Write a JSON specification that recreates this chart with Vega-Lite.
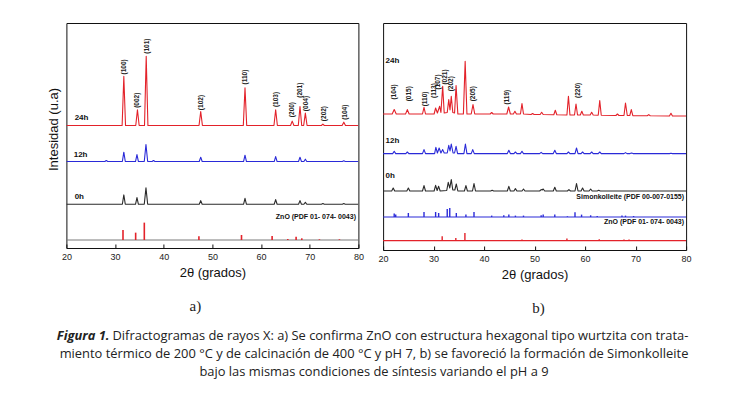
{
  "$schema": "https://vega.github.io/schema/vega-lite/v6.json",
  "padding": {"left": 29, "top": 22, "right": 0, "bottom": 0},
  "background": "white",
  "config": {
    "view": {"stroke": "#111", "strokeWidth": 1},
    "axisX": {"values": [20,25,30,35,40,45,50,55,60,65,70,75,80], "labelExpr": "datum.value % 10 === 0 ? datum.label : ''", "tickSize": -4, "tickColor": "#111", "domain": false, "grid": false, "labelFont": "Liberation Sans", "labelFontSize": 9, "labelColor": "#222", "labelPadding": 8, "labelFlush": false, "labelOverlap": false, "titleFont": "Liberation Sans", "titleFontSize": 13, "titleFontWeight": "normal", "titleColor": "#111", "titlePadding": 5},
    "axisY": {"ticks": false, "labels": false, "domain": false, "grid": false, "titleFont": "Liberation Sans", "titleFontSize": 13, "titleFontWeight": "normal", "titleColor": "#111", "titlePadding": 6, "titleY": 106}
  },
  "datasets": {
    "a_lines": [
      {"s":"24h","x":20,"y":367},{"s":"24h","x":31.45,"y":367},{"s":"24h","x":31.8,"y":514},{"s":"24h","x":32.15,"y":367},{"s":"24h","x":34.25,"y":367},{"s":"24h","x":34.6,"y":414},{"s":"24h","x":34.95,"y":367},{"s":"24h","x":36.05,"y":367},{"s":"24h","x":36.4,"y":574},{"s":"24h","x":36.75,"y":367},{"s":"24h","x":47.25,"y":367},{"s":"24h","x":47.6,"y":409},{"s":"24h","x":47.95,"y":367},{"s":"24h","x":56.35,"y":367},{"s":"24h","x":56.7,"y":480},{"s":"24h","x":57.05,"y":367},{"s":"24h","x":62.65,"y":367},{"s":"24h","x":63.0,"y":414},{"s":"24h","x":63.35,"y":367},{"s":"24h","x":66.05,"y":367},{"s":"24h","x":66.4,"y":380},{"s":"24h","x":66.75,"y":367},{"s":"24h","x":67.65,"y":367},{"s":"24h","x":68.0,"y":424},{"s":"24h","x":68.35,"y":367},{"s":"24h","x":68.75,"y":367},{"s":"24h","x":69.1,"y":404},{"s":"24h","x":69.45,"y":367},{"s":"24h","x":72.4,"y":367},{"s":"24h","x":72.7,"y":371},{"s":"24h","x":73.0,"y":367},{"s":"24h","x":76.65,"y":367},{"s":"24h","x":77.0,"y":377},{"s":"24h","x":77.35,"y":367},{"s":"24h","x":80,"y":367},
      {"s":"12h","x":20,"y":259},{"s":"12h","x":27.9,"y":259},{"s":"12h","x":28.2,"y":262},{"s":"12h","x":28.5,"y":259},{"s":"12h","x":31.5,"y":259},{"s":"12h","x":31.8,"y":287},{"s":"12h","x":32.1,"y":259},{"s":"12h","x":34.2,"y":259},{"s":"12h","x":34.5,"y":280},{"s":"12h","x":34.8,"y":259},{"s":"12h","x":36.0,"y":259},{"s":"12h","x":36.35,"y":310},{"s":"12h","x":36.7,"y":259},{"s":"12h","x":37.6,"y":259},{"s":"12h","x":37.9,"y":262},{"s":"12h","x":38.2,"y":259},{"s":"12h","x":47.3,"y":259},{"s":"12h","x":47.6,"y":272},{"s":"12h","x":47.9,"y":259},{"s":"12h","x":56.4,"y":259},{"s":"12h","x":56.7,"y":278},{"s":"12h","x":57.0,"y":259},{"s":"12h","x":62.7,"y":259},{"s":"12h","x":63.0,"y":274},{"s":"12h","x":63.3,"y":259},{"s":"12h","x":67.7,"y":259},{"s":"12h","x":68.0,"y":272},{"s":"12h","x":68.3,"y":259},{"s":"12h","x":68.8,"y":259},{"s":"12h","x":69.1,"y":266},{"s":"12h","x":69.4,"y":259},{"s":"12h","x":76.7,"y":259},{"s":"12h","x":77.0,"y":261},{"s":"12h","x":77.3,"y":259},{"s":"12h","x":80,"y":259},
      {"s":"0h","x":20,"y":131},{"s":"0h","x":31.5,"y":131},{"s":"0h","x":31.8,"y":159},{"s":"0h","x":32.1,"y":131},{"s":"0h","x":34.2,"y":131},{"s":"0h","x":34.5,"y":151},{"s":"0h","x":34.8,"y":131},{"s":"0h","x":36.0,"y":131},{"s":"0h","x":36.35,"y":180},{"s":"0h","x":36.7,"y":131},{"s":"0h","x":47.3,"y":131},{"s":"0h","x":47.6,"y":142},{"s":"0h","x":47.9,"y":131},{"s":"0h","x":56.4,"y":131},{"s":"0h","x":56.7,"y":149},{"s":"0h","x":57.0,"y":131},{"s":"0h","x":62.7,"y":131},{"s":"0h","x":63.0,"y":145},{"s":"0h","x":63.3,"y":131},{"s":"0h","x":67.7,"y":131},{"s":"0h","x":68.0,"y":142},{"s":"0h","x":68.3,"y":131},{"s":"0h","x":68.8,"y":131},{"s":"0h","x":69.1,"y":137},{"s":"0h","x":69.4,"y":131},{"s":"0h","x":72.4,"y":131},{"s":"0h","x":72.7,"y":133},{"s":"0h","x":73.0,"y":131},{"s":"0h","x":76.7,"y":131},{"s":"0h","x":77.0,"y":133},{"s":"0h","x":77.3,"y":131},{"s":"0h","x":80,"y":131},
      {"s":"base","x":20,"y":24},{"s":"base","x":80,"y":24}
    ],
    "a_sticks": [
      {"s":"zno","x":31.63,"b":24,"y":54},{"s":"zno","x":34.23,"b":24,"y":46},{"s":"zno","x":36.01,"b":24,"y":76},{"s":"zno","x":47.23,"b":24,"y":35},{"s":"zno","x":55.98,"b":24,"y":39},{"s":"zno","x":62.27,"b":24,"y":36},{"s":"zno","x":65.49,"b":24,"y":27},{"s":"zno","x":67.2,"b":24,"y":34},{"s":"zno","x":68.37,"b":24,"y":29},{"s":"zno","x":71.99,"b":24,"y":26},{"s":"zno","x":76.1,"b":24,"y":26}
    ],
    "a_hkl": [
      {"t":"(100)","x":31.9,"y":520},{"t":"(002)","x":34.5,"y":420},{"t":"(101)","x":36.5,"y":582},{"t":"(102)","x":47.6,"y":413},{"t":"(110)","x":56.7,"y":490},{"t":"(103)","x":63.0,"y":422},{"t":"(200)","x":66.4,"y":392},{"t":"(201)","x":68.0,"y":450},{"t":"(004)","x":69.2,"y":410},{"t":"(202)","x":72.9,"y":380},{"t":"(104)","x":77.2,"y":384}
    ],
    "a_names": [
      {"t":"24h","x":21.7,"y":390},{"t":"12h","x":21.5,"y":280},{"t":"0h","x":21.7,"y":154}
    ],
    "a_refs": [
      {"t":"ZnO (PDF 01- 074- 0043)","x":79.5,"y":92}
    ],
    "b_lines": [
      {"s":"24h","x":20,"y":136},{"s":"24h","x":21.8,"y":136},{"s":"24h","x":22.2,"y":140.4},{"s":"24h","x":22.6,"y":136},{"s":"24h","x":24.45,"y":136},{"s":"24h","x":24.8,"y":140.4},{"s":"24h","x":25.15,"y":136},{"s":"24h","x":27.8,"y":136},{"s":"24h","x":28.1,"y":142.7},{"s":"24h","x":28.4,"y":136},{"s":"24h","x":30.1,"y":136},{"s":"24h","x":30.4,"y":142},{"s":"24h","x":30.75,"y":137},{"s":"24h","x":31.2,"y":143.7},{"s":"24h","x":31.45,"y":137.5},{"s":"24h","x":31.8,"y":163.7},{"s":"24h","x":32.1,"y":137},{"s":"24h","x":32.7,"y":137.5},{"s":"24h","x":33.0,"y":150.4},{"s":"24h","x":33.25,"y":140},{"s":"24h","x":33.5,"y":153.7},{"s":"24h","x":33.8,"y":137.5},{"s":"24h","x":34.15,"y":137},{"s":"24h","x":34.45,"y":164.4},{"s":"24h","x":34.8,"y":136},{"s":"24h","x":35.9,"y":136},{"s":"24h","x":36.25,"y":188.7},{"s":"24h","x":36.6,"y":136},{"s":"24h","x":37.45,"y":136},{"s":"24h","x":37.8,"y":145.4},{"s":"24h","x":38.15,"y":136},{"s":"24h","x":41.2,"y":136},{"s":"24h","x":41.5,"y":137.5},{"s":"24h","x":41.8,"y":136},{"s":"24h","x":44.5,"y":136},{"s":"24h","x":44.85,"y":143},{"s":"24h","x":45.2,"y":136},{"s":"24h","x":45.8,"y":136},{"s":"24h","x":46.1,"y":138.7},{"s":"24h","x":46.4,"y":136},{"s":"24h","x":47.2,"y":136},{"s":"24h","x":47.5,"y":146.4},{"s":"24h","x":47.8,"y":136},{"s":"24h","x":49.3,"y":135.5},{"s":"24h","x":49.6,"y":136.5},{"s":"24h","x":49.9,"y":135.5},{"s":"24h","x":51.1,"y":135.5},{"s":"24h","x":51.4,"y":137.7},{"s":"24h","x":51.7,"y":135.5},{"s":"24h","x":53.8,"y":135.3},{"s":"24h","x":54.1,"y":139.7},{"s":"24h","x":54.4,"y":135.3},{"s":"24h","x":56.4,"y":135},{"s":"24h","x":56.7,"y":153.7},{"s":"24h","x":57.0,"y":135},{"s":"24h","x":57.9,"y":135},{"s":"24h","x":58.2,"y":146},{"s":"24h","x":58.5,"y":135},{"s":"24h","x":59.05,"y":135},{"s":"24h","x":59.35,"y":138.7},{"s":"24h","x":59.65,"y":135},{"s":"24h","x":61.0,"y":135},{"s":"24h","x":61.3,"y":137.7},{"s":"24h","x":61.6,"y":135},{"s":"24h","x":62.6,"y":134.8},{"s":"24h","x":62.9,"y":149.4},{"s":"24h","x":63.2,"y":134.8},{"s":"24h","x":66.1,"y":134.5},{"s":"24h","x":66.4,"y":136},{"s":"24h","x":66.7,"y":134.5},{"s":"24h","x":67.7,"y":134.5},{"s":"24h","x":68.0,"y":147},{"s":"24h","x":68.35,"y":134.5},{"s":"24h","x":68.85,"y":134.5},{"s":"24h","x":69.15,"y":140.4},{"s":"24h","x":69.45,"y":134.3},{"s":"24h","x":72.3,"y":134.3},{"s":"24h","x":72.6,"y":135.4},{"s":"24h","x":72.9,"y":134.2},{"s":"24h","x":76.7,"y":134},{"s":"24h","x":77.0,"y":136.7},{"s":"24h","x":77.3,"y":134},{"s":"24h","x":80,"y":134},
      {"s":"12h","x":20,"y":96.4},{"s":"12h","x":21.9,"y":96.4},{"s":"12h","x":22.2,"y":98.7},{"s":"12h","x":22.5,"y":96.4},{"s":"12h","x":24.5,"y":96.4},{"s":"12h","x":24.8,"y":98},{"s":"12h","x":25.1,"y":96.4},{"s":"12h","x":27.8,"y":96.4},{"s":"12h","x":28.1,"y":100.4},{"s":"12h","x":28.4,"y":96.4},{"s":"12h","x":30.2,"y":96.4},{"s":"12h","x":30.45,"y":102.7},{"s":"12h","x":30.75,"y":97},{"s":"12h","x":31.1,"y":102},{"s":"12h","x":31.45,"y":97},{"s":"12h","x":31.8,"y":100.4},{"s":"12h","x":32.1,"y":97},{"s":"12h","x":32.7,"y":97},{"s":"12h","x":33.0,"y":104.7},{"s":"12h","x":33.25,"y":99},{"s":"12h","x":33.5,"y":106},{"s":"12h","x":33.85,"y":97},{"s":"12h","x":34.15,"y":97},{"s":"12h","x":34.45,"y":103.7},{"s":"12h","x":34.75,"y":96.4},{"s":"12h","x":36.0,"y":96.4},{"s":"12h","x":36.3,"y":106},{"s":"12h","x":36.6,"y":96.4},{"s":"12h","x":37.45,"y":96.4},{"s":"12h","x":37.75,"y":100.4},{"s":"12h","x":38.05,"y":96.4},{"s":"12h","x":44.6,"y":96.4},{"s":"12h","x":44.9,"y":99.7},{"s":"12h","x":45.2,"y":96.4},{"s":"12h","x":45.9,"y":96.4},{"s":"12h","x":46.2,"y":98},{"s":"12h","x":46.5,"y":96.4},{"s":"12h","x":47.2,"y":96.4},{"s":"12h","x":47.5,"y":98.7},{"s":"12h","x":47.8,"y":96.4},{"s":"12h","x":51.0,"y":96.4},{"s":"12h","x":51.3,"y":97.7},{"s":"12h","x":51.6,"y":96.4},{"s":"12h","x":53.7,"y":96.4},{"s":"12h","x":54.0,"y":99.7},{"s":"12h","x":54.3,"y":96.4},{"s":"12h","x":56.4,"y":96.4},{"s":"12h","x":56.7,"y":98},{"s":"12h","x":57.0,"y":96.4},{"s":"12h","x":58.0,"y":96.4},{"s":"12h","x":58.3,"y":102},{"s":"12h","x":58.6,"y":96.4},{"s":"12h","x":59.2,"y":96.4},{"s":"12h","x":59.5,"y":98},{"s":"12h","x":59.8,"y":96.4},{"s":"12h","x":61.0,"y":96.4},{"s":"12h","x":61.3,"y":98},{"s":"12h","x":61.6,"y":96.4},{"s":"12h","x":62.6,"y":96.4},{"s":"12h","x":62.9,"y":98},{"s":"12h","x":63.2,"y":96.4},{"s":"12h","x":67.7,"y":96.4},{"s":"12h","x":68.0,"y":97.4},{"s":"12h","x":68.3,"y":96.4},{"s":"12h","x":68.9,"y":96.4},{"s":"12h","x":69.2,"y":97},{"s":"12h","x":69.5,"y":96.4},{"s":"12h","x":76.7,"y":96.4},{"s":"12h","x":77.0,"y":96.7},{"s":"12h","x":77.3,"y":96.4},{"s":"12h","x":80,"y":96.4},
      {"s":"0h","x":20,"y":59},{"s":"0h","x":21.7,"y":59},{"s":"0h","x":22.0,"y":62},{"s":"0h","x":22.3,"y":59},{"s":"0h","x":24.7,"y":59},{"s":"0h","x":25.0,"y":62},{"s":"0h","x":25.3,"y":59},{"s":"0h","x":27.8,"y":59},{"s":"0h","x":28.1,"y":64.4},{"s":"0h","x":28.4,"y":59},{"s":"0h","x":30.1,"y":59},{"s":"0h","x":30.4,"y":64.7},{"s":"0h","x":30.7,"y":59.5},{"s":"0h","x":31.0,"y":63.7},{"s":"0h","x":31.3,"y":59},{"s":"0h","x":32.6,"y":59.5},{"s":"0h","x":32.9,"y":67.7},{"s":"0h","x":33.2,"y":62},{"s":"0h","x":33.5,"y":70.4},{"s":"0h","x":33.8,"y":60},{"s":"0h","x":34.2,"y":60},{"s":"0h","x":34.5,"y":66},{"s":"0h","x":34.8,"y":59},{"s":"0h","x":36.1,"y":59},{"s":"0h","x":36.4,"y":64.4},{"s":"0h","x":36.7,"y":59},{"s":"0h","x":37.7,"y":59},{"s":"0h","x":38.0,"y":66.4},{"s":"0h","x":38.3,"y":59},{"s":"0h","x":41.3,"y":59},{"s":"0h","x":41.6,"y":59.8},{"s":"0h","x":41.9,"y":59},{"s":"0h","x":44.6,"y":59},{"s":"0h","x":44.9,"y":63.7},{"s":"0h","x":45.2,"y":59},{"s":"0h","x":45.9,"y":59},{"s":"0h","x":46.2,"y":61.4},{"s":"0h","x":46.5,"y":59},{"s":"0h","x":47.5,"y":59},{"s":"0h","x":47.8,"y":61},{"s":"0h","x":48.1,"y":59},{"s":"0h","x":51.0,"y":59},{"s":"0h","x":51.3,"y":60.4},{"s":"0h","x":51.5,"y":60},{"s":"0h","x":51.7,"y":61},{"s":"0h","x":52.0,"y":59},{"s":"0h","x":53.7,"y":59},{"s":"0h","x":54.0,"y":62.7},{"s":"0h","x":54.3,"y":59},{"s":"0h","x":56.5,"y":59},{"s":"0h","x":56.8,"y":60.4},{"s":"0h","x":57.1,"y":59},{"s":"0h","x":58.0,"y":59},{"s":"0h","x":58.3,"y":66.4},{"s":"0h","x":58.6,"y":59},{"s":"0h","x":59.2,"y":59},{"s":"0h","x":59.5,"y":62},{"s":"0h","x":59.8,"y":59},{"s":"0h","x":60.8,"y":59},{"s":"0h","x":61.1,"y":61},{"s":"0h","x":61.4,"y":59},{"s":"0h","x":62.4,"y":59},{"s":"0h","x":62.7,"y":59.7},{"s":"0h","x":63.0,"y":59},{"s":"0h","x":80,"y":59},
      {"s":"simon","x":20,"y":33},{"s":"simon","x":80,"y":33},
      {"s":"zno","x":20,"y":9.4},{"s":"zno","x":80,"y":9.4}
    ],
    "b_sticks": [
      {"s":"simon","x":22.2,"b":33,"y":36.4},{"s":"simon","x":22.5,"b":33,"y":35.4},{"s":"simon","x":25.0,"b":33,"y":37},{"s":"simon","x":28.1,"b":33,"y":38},{"s":"simon","x":30.4,"b":33,"y":38},{"s":"simon","x":31.0,"b":33,"y":37},{"s":"simon","x":32.7,"b":33,"y":41},{"s":"simon","x":33.2,"b":33,"y":42},{"s":"simon","x":34.5,"b":33,"y":37},{"s":"simon","x":36.4,"b":33,"y":35.4},{"s":"simon","x":38.0,"b":33,"y":38},{"s":"simon","x":41.5,"b":33,"y":34.4},{"s":"simon","x":43.9,"b":33,"y":34.7},{"s":"simon","x":44.9,"b":33,"y":35.4},{"s":"simon","x":46.2,"b":33,"y":34.4},{"s":"simon","x":47.8,"b":33,"y":34.4},{"s":"simon","x":51.3,"b":33,"y":34.7},{"s":"simon","x":51.7,"b":33,"y":35.4},{"s":"simon","x":54.0,"b":33,"y":35.4},{"s":"simon","x":56.5,"b":33,"y":33.7},{"s":"simon","x":58.0,"b":33,"y":37.7},{"s":"simon","x":59.3,"b":33,"y":35.4},{"s":"simon","x":61.1,"b":33,"y":34.7},{"s":"simon","x":62.4,"b":33,"y":34},{"s":"simon","x":67.3,"b":33,"y":34.4},{"s":"simon","x":68.0,"b":33,"y":34.4},{"s":"simon","x":69.6,"b":33,"y":34},
      {"s":"zno","x":31.7,"b":9.4,"y":13.7},{"s":"zno","x":34.4,"b":9.4,"y":12},{"s":"zno","x":36.2,"b":9.4,"y":17},{"s":"zno","x":47.5,"b":9.4,"y":10.4},{"s":"zno","x":56.4,"b":9.4,"y":11.4},{"s":"zno","x":62.8,"b":9.4,"y":10.7},{"s":"zno","x":67.7,"b":9.4,"y":10.4},{"s":"zno","x":68.7,"b":9.4,"y":10.4}
    ],
    "b_hkl": [
      {"t":"(104)","x":22.2,"y":150.4},{"t":"(015)","x":25.1,"y":148.7},{"t":"(110)","x":28.3,"y":143.7},{"t":"(113)","x":30.05,"y":152},{"t":"(107)","x":30.85,"y":160.4},{"t":"(021)","x":32.35,"y":165.4},{"t":"(202)","x":33.45,"y":158.7},{"t":"(205)","x":37.75,"y":148.7},{"t":"(119)","x":44.5,"y":145.4},{"t":"(220)","x":58.5,"y":152}
    ],
    "b_names": [
      {"t":"24h","x":20.5,"y":188.7},{"t":"12h","x":20.5,"y":108.7},{"t":"0h","x":20.5,"y":74.5}
    ],
    "b_refs": [
      {"t":"Simonkolleite (PDF 00-007-0155)","x":79.6,"y":52.7},{"t":"ZnO (PDF 01- 074- 0043)","x":79.6,"y":28}
    ],
    "caption": [
      {"line":1,"part":"fig","text":"Figura 1."},
      {"line":1,"part":"rest","text":"Difractogramas de rayos X: a) Se confirma ZnO con estructura hexagonal tipo wurtzita con trata-"},
      {"line":2,"part":"full","text":"miento térmico de 200 °C y de calcinación de 400 °C y pH 7, b) se favoreció la formación de Simonkolleite"},
      {"line":3,"part":"full","text":"bajo las mismas condiciones de síntesis variando el pH a 9"}
    ]
  },
  "vconcat": [
    {
      "hconcat": [
        {
          "width": 292, "height": 225,
          "title": {"text": "a)", "orient": "bottom", "font": "Liberation Serif", "fontSize": 15, "fontWeight": "normal", "color": "#222", "offset": 20, "dx": -17},
          "layer": [
            {
              "data": {"name": "a_lines"},
              "mark": {"type": "line", "strokeWidth": 1.1, "strokeJoin": "round", "clip": true},
              "encoding": {
                "x": {"field": "x", "type": "quantitative", "scale": {"domain": [20, 80], "nice": false, "zero": false}, "axis": {"title": "2θ (grados)"}},
                "y": {"field": "y", "type": "quantitative", "scale": {"domain": [0, 674], "nice": false, "zero": false}, "axis": {"title": "Intesidad (u.a)"}},
                "color": {"field": "s", "type": "nominal", "scale": {"domain": ["24h","12h","0h","base","simon","zno"], "range": ["#e3222a","#2a2ad8","#2a2a2a","#7a7a7a","#2a2ad8","#e3222a"]}, "legend": null}
              }
            },
            {
              "data": {"name": "a_sticks"},
              "mark": {"type": "rule", "strokeWidth": 1.6},
              "encoding": {
                "x": {"field": "x", "type": "quantitative"},
                "y": {"field": "b", "type": "quantitative"},
                "y2": {"field": "y"},
                "color": {"field": "s", "type": "nominal", "scale": {"domain": ["24h","12h","0h","base","simon","zno"], "range": ["#e3222a","#2a2ad8","#2a2a2a","#7a7a7a","#2a2ad8","#e3222a"]}, "legend": null}
              }
            },
            {
              "data": {"name": "a_hkl"},
              "mark": {"type": "text", "angle": 270, "align": "left", "baseline": "middle", "font": "Liberation Sans", "fontSize": 6.5, "fontWeight": "bold", "color": "#222"},
              "encoding": {"x": {"field": "x", "type": "quantitative"}, "y": {"field": "y", "type": "quantitative"}, "text": {"field": "t"}}
            },
            {
              "data": {"name": "a_names"},
              "mark": {"type": "text", "align": "left", "baseline": "middle", "font": "Liberation Sans", "fontSize": 8, "fontWeight": "bold", "color": "#111"},
              "encoding": {"x": {"field": "x", "type": "quantitative"}, "y": {"field": "y", "type": "quantitative"}, "text": {"field": "t"}}
            },
            {
              "data": {"name": "a_refs"},
              "mark": {"type": "text", "align": "right", "baseline": "middle", "font": "Liberation Sans", "fontSize": 7, "fontWeight": "bold", "color": "#111"},
              "encoding": {"x": {"field": "x", "type": "quantitative"}, "y": {"field": "y", "type": "quantitative"}, "text": {"field": "t"}}
            }
          ]
        },
        {
          "width": 303, "height": 227,
          "title": {"text": "b)", "orient": "bottom", "font": "Liberation Serif", "fontSize": 15, "fontWeight": "normal", "color": "#222", "offset": 20, "dx": 4},
          "layer": [
            {
              "data": {"name": "b_lines"},
              "mark": {"type": "line", "strokeWidth": 1.1, "strokeJoin": "round", "clip": true},
              "encoding": {
                "x": {"field": "x", "type": "quantitative", "scale": {"domain": [20, 80], "nice": false, "zero": false}, "axis": {"title": "2θ (grados)"}},
                "y": {"field": "y", "type": "quantitative", "scale": {"domain": [0, 227], "nice": false, "zero": false}, "axis": null},
                "color": {"field": "s", "type": "nominal", "scale": {"domain": ["24h","12h","0h","base","simon","zno"], "range": ["#e3222a","#2a2ad8","#2a2a2a","#7a7a7a","#2a2ad8","#e3222a"]}, "legend": null}
              }
            },
            {
              "data": {"name": "b_sticks"},
              "mark": {"type": "rule", "strokeWidth": 1.4},
              "encoding": {
                "x": {"field": "x", "type": "quantitative"},
                "y": {"field": "b", "type": "quantitative"},
                "y2": {"field": "y"},
                "color": {"field": "s", "type": "nominal", "scale": {"domain": ["24h","12h","0h","base","simon","zno"], "range": ["#e3222a","#2a2ad8","#2a2a2a","#7a7a7a","#2a2ad8","#e3222a"]}, "legend": null}
              }
            },
            {
              "data": {"name": "b_hkl"},
              "mark": {"type": "text", "angle": 270, "align": "left", "baseline": "middle", "font": "Liberation Sans", "fontSize": 6.5, "fontWeight": "bold", "color": "#222"},
              "encoding": {"x": {"field": "x", "type": "quantitative"}, "y": {"field": "y", "type": "quantitative"}, "text": {"field": "t"}}
            },
            {
              "data": {"name": "b_names"},
              "mark": {"type": "text", "align": "left", "baseline": "middle", "font": "Liberation Sans", "fontSize": 8, "fontWeight": "bold", "color": "#111"},
              "encoding": {"x": {"field": "x", "type": "quantitative"}, "y": {"field": "y", "type": "quantitative"}, "text": {"field": "t"}}
            },
            {
              "data": {"name": "b_refs"},
              "mark": {"type": "text", "align": "right", "baseline": "middle", "font": "Liberation Sans", "fontSize": 7, "fontWeight": "bold", "color": "#111"},
              "encoding": {"x": {"field": "x", "type": "quantitative"}, "y": {"field": "y", "type": "quantitative"}, "text": {"field": "t"}}
            }
          ]
        }
      ],
      "spacing": 12.7
    },
    {
      "width": 700, "height": 54,
      "view": {"stroke": null},
      "data": {"name": "caption"},
      "layer": [
        {
          "transform": [{"filter": "datum.part === 'fig'"}],
          "mark": {"type": "text", "align": "right", "baseline": "middle", "dx": -269.5, "font": "Open Sans", "fontSize": 12.9, "fontWeight": "bold", "fontStyle": "italic", "color": "#222"},
          "encoding": {"y": {"field": "line", "type": "ordinal", "axis": null}, "text": {"field": "text"}}
        },
        {
          "transform": [{"filter": "datum.part === 'rest'"}],
          "mark": {"type": "text", "align": "left", "baseline": "middle", "dx": -266.5, "font": "Open Sans", "fontSize": 12.9, "color": "#222"},
          "encoding": {"y": {"field": "line", "type": "ordinal", "axis": null}, "text": {"field": "text"}}
        },
        {
          "transform": [{"filter": "datum.part === 'full'"}],
          "mark": {"type": "text", "align": "center", "baseline": "middle", "dx": -5, "font": "Open Sans", "fontSize": 12.9, "color": "#222"},
          "encoding": {"y": {"field": "line", "type": "ordinal", "axis": null}, "text": {"field": "text"}}
        }
      ]
    }
  ],
  "spacing": 10,
  "center": true
}
